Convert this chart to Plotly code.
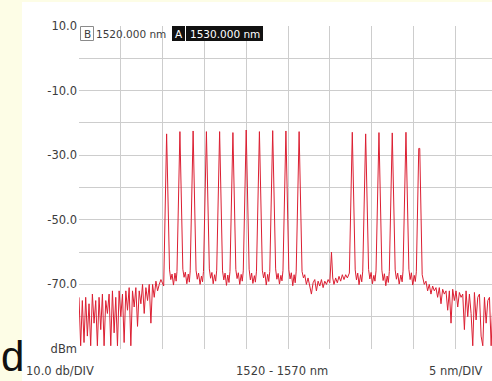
import plotly.graph_objects as go

# ---------------- data ----------------
# ASE noise floor left of the channel band (nm, dBm)
left_wl = [1520.0, 1520.2, 1520.4, 1520.6, 1520.8, 1521.0, 1521.2, 1521.4, 1521.6, 1521.8,
           1522.0, 1522.2, 1522.4, 1522.6, 1522.8, 1523.0, 1523.2, 1523.4, 1523.6, 1523.8,
           1524.0, 1524.2, 1524.4, 1524.6, 1524.8, 1525.0, 1525.2, 1525.4, 1525.6, 1525.8,
           1526.0, 1526.2, 1526.4, 1526.6, 1526.8, 1527.0, 1527.2, 1527.4, 1527.6, 1527.8,
           1528.0, 1528.2, 1528.4, 1528.6, 1528.8, 1529.0, 1529.2, 1529.4, 1529.6, 1529.8,
           1530.13]
left_dbm = [-74.0, -89.0, -75.0, -88.0, -74.0, -86.0, -76.0, -89.0, -73.0, -82.0,
            -75.0, -89.0, -74.0, -84.0, -73.0, -89.0, -75.0, -79.0, -73.0, -89.0,
            -72.0, -85.0, -74.0, -89.0, -72.0, -80.0, -73.0, -88.0, -72.0, -78.0,
            -71.0, -89.0, -72.0, -77.0, -71.0, -83.0, -72.0, -76.0, -70.0, -79.0,
            -71.0, -75.0, -70.0, -82.0, -70.0, -74.0, -69.0, -72.0, -70.0, -68.5,
            -70.5]

# channel peaks (nm, dBm)
peak_wl = [1530.48, 1532.07, 1533.65, 1535.24, 1536.82, 1538.41, 1540.00, 1541.58,
           1543.17, 1544.75, 1546.33,
           1552.69, 1554.29, 1555.88, 1557.47, 1559.11, 1560.64, 1560.76]
peak_dbm = [-23.4, -22.7, -22.5, -22.7, -22.7, -23.0, -22.2, -22.7,
            -22.4, -22.5, -22.7,
            -22.9, -23.4, -23.0, -23.1, -22.9, -27.9, -27.9]

# in-band noise floor between the channels (nm, dBm)
floor_wl = [1530.83, 1530.98, 1531.13, 1531.30, 1531.48, 1531.62, 1531.72,
            1532.42, 1532.57, 1532.72, 1532.90, 1533.07, 1533.20, 1533.30,
            1534.00, 1534.15, 1534.30, 1534.48, 1534.65, 1534.78, 1534.89,
            1535.59, 1535.74, 1535.90, 1536.05, 1536.22, 1536.35, 1536.47,
            1537.17, 1537.32, 1537.47, 1537.64, 1537.80, 1537.94, 1538.06,
            1538.76, 1538.91, 1539.06, 1539.23, 1539.40, 1539.53, 1539.65,
            1540.35, 1540.50, 1540.65, 1540.80, 1540.98, 1541.10, 1541.23,
            1541.93, 1542.08, 1542.23, 1542.40, 1542.57, 1542.70, 1542.82,
            1543.52, 1543.67, 1543.82, 1543.98, 1544.15, 1544.28, 1544.40,
            1545.10, 1545.25, 1545.40, 1545.57, 1545.73, 1545.86, 1545.98,
            1546.68, 1546.85, 1547.00, 1547.20, 1547.40, 1547.60, 1547.80, 1548.00,
            1548.20, 1548.40, 1548.60, 1548.80, 1549.00, 1549.20, 1549.40, 1549.60,
            1549.80, 1550.00, 1550.20, 1550.35, 1550.50, 1550.70, 1550.90, 1551.10,
            1551.30, 1551.50, 1551.70, 1551.90, 1552.10, 1552.34,
            1553.04, 1553.19, 1553.34, 1553.50, 1553.68, 1553.82, 1553.94,
            1554.64, 1554.79, 1554.94, 1555.10, 1555.27, 1555.40, 1555.53,
            1556.23, 1556.38, 1556.53, 1556.70, 1556.86, 1557.00, 1557.12,
            1557.82, 1557.97, 1558.12, 1558.30, 1558.50, 1558.65, 1558.76,
            1559.46, 1559.61, 1559.76, 1559.92, 1560.10, 1560.23, 1560.35,
            1561.05]
floor_dbm = [-65.5, -68.5, -66.8, -70.2, -66.5, -69.0, -66.0,
             -65.3, -67.8, -66.2, -69.8, -66.8, -69.3, -65.8,
             -65.6, -68.4, -66.5, -70.0, -67.4, -69.2, -66.0,
             -65.2, -68.1, -66.3, -69.8, -67.0, -69.0, -65.6,
             -65.8, -68.6, -66.5, -70.3, -67.1, -69.4, -66.0,
             -65.4, -68.2, -66.4, -70.0, -66.9, -69.0, -65.8,
             -65.3, -68.6, -66.5, -69.7, -67.3, -69.3, -65.9,
             -65.6, -68.0, -66.2, -70.2, -66.9, -69.1, -66.0,
             -65.2, -68.4, -66.6, -69.9, -67.2, -68.9, -65.7,
             -65.5, -68.3, -66.4, -70.4, -67.0, -69.5, -65.9,
             -66.0, -68.0, -67.0, -70.0, -68.0, -71.0, -73.0, -69.5,
             -68.5, -72.0, -69.0, -70.5, -68.5, -71.0, -69.0, -70.0,
             -68.5, -69.5, -60.0, -68.0, -70.0, -68.0, -69.5, -67.5,
             -69.0, -67.0, -68.5, -67.0, -68.0, -66.5,
             -65.5, -68.6, -66.5, -70.1, -67.0, -69.2, -65.9,
             -65.4, -68.3, -66.3, -69.8, -67.2, -69.0, -65.8,
             -65.6, -68.8, -66.7, -70.4, -67.4, -69.4, -66.0,
             -65.5, -68.4, -66.5, -69.9, -67.1, -69.2, -65.9,
             -65.3, -68.5, -66.4, -70.2, -67.2, -69.1, -66.1,
             -67.0]

# ASE noise floor right of the channel band (nm, dBm)
right_wl = [1561.3, 1561.5, 1561.7, 1561.9, 1562.1, 1562.3, 1562.5, 1562.7, 1562.9,
            1563.1, 1563.3, 1563.5, 1563.7, 1563.9, 1564.1, 1564.3, 1564.5, 1564.7,
            1564.9, 1565.1, 1565.3, 1565.5, 1565.7, 1565.9, 1566.1, 1566.3, 1566.5,
            1566.7, 1566.9, 1567.1, 1567.3, 1567.5, 1567.7, 1567.9, 1568.1, 1568.3,
            1568.5, 1568.7, 1568.9, 1569.1, 1569.3, 1569.5]
right_dbm = [-70.0, -69.0, -72.0, -70.0, -73.0, -70.5, -72.0, -71.0, -74.0,
             -71.0, -76.0, -71.5, -73.0, -72.0, -78.0, -72.0, -82.0, -71.5,
             -75.0, -72.0, -77.0, -72.5, -74.0, -73.0, -84.0, -72.0, -80.0,
             -73.0, -79.0, -89.0, -72.5, -81.0, -74.0, -73.0, -86.0, -89.0,
             -74.0, -82.0, -75.0, -74.0, -89.0, -76.0]

# axis / annotation texts
y_ticks = [10, 0, -10, -20, -30, -40, -50, -60, -70, -80, -90]
y_ticktext = ["10.0", "", "-10.0", "", "-30.0", "", "-50.0", "", "-70.0", "", "dBm"]
x_grid = [1520, 1525, 1530, 1535, 1540, 1545, 1550, 1555, 1560, 1565, 1570]
marker_b = "1520.000 nm"
marker_a = "1530.000 nm"
footer = ["10.0 db/DIV", "1520 - 1570 nm", "5 nm/DIV"]

# ---------------- assemble trace (sorted union of read points) ----------------
pts = sorted(zip(left_wl + peak_wl + floor_wl + right_wl,
                 left_dbm + peak_dbm + floor_dbm + right_dbm))
wl = [p[0] for p in pts]
dbm = [p[1] for p in pts]

W, H = 492, 381
L, R, T, B = 79, 0, 26, 32
pw, ph = W - L - R, H - T - B


def px(xp):
    return (xp - L) / pw


def py(yp):
    return (H - B - yp) / ph


FONT = "DejaVu Sans"
TXT = "#3c3c3c"

fig = go.Figure()
fig.add_trace(go.Scatter(x=wl, y=dbm, mode="lines",
                         line=dict(color="#dc1f32", width=1), hoverinfo="skip"))


def rect(x0, x1, y0, y1, fill, line=None, layer="above"):
    return dict(type="rect", xref="paper", yref="paper", layer=layer,
                x0=px(x0), x1=px(x1), y0=py(y1), y1=py(y0),
                fillcolor=fill, line=line or dict(width=0))


shapes = [
    rect(22, W + 5, 2, H + 5, "white", layer="below"),
    rect(80.5, 93.5, 26.5, 40.5, "white", dict(color="#8a8a8a", width=1)),
    rect(172, 185, 26, 41, "#111111"),
    rect(186, 263, 26, 41, "#111111"),
]

fig.update_layout(
    width=W, height=H,
    margin=dict(l=L, r=R, t=T, b=B, pad=0),
    paper_bgcolor="#fdfde6",
    plot_bgcolor="white",
    showlegend=False,
    xaxis=dict(range=[1520, 1520 + pw / 8.36], tickmode="array", tickvals=x_grid,
               showticklabels=False, ticks="", showgrid=True, gridcolor="#cdcdcd",
               gridwidth=1, zeroline=False, showline=False, fixedrange=True),
    yaxis=dict(range=[-90, 10], tickmode="array", tickvals=y_ticks, ticktext=y_ticktext,
               ticks="", showgrid=True, gridcolor="#cdcdcd", gridwidth=1,
               zeroline=False, showline=False, ticklabelstandoff=1,
               tickfont=dict(family=FONT, size=11.5, color=TXT), fixedrange=True),
    shapes=shapes,
)


def label(text, xp, yp, anchor="center", color=TXT, size=10.5, fam=FONT, yanchor="middle"):
    return dict(text=text, xref="paper", yref="paper", x=px(xp), y=py(yp),
                xanchor=anchor, yanchor=yanchor, showarrow=False,
                font=dict(family=fam, size=size, color=color), borderpad=0)


ann = [
    label("B", 87, 33.5),
    label(marker_b, 95, 33.5, anchor="left"),
    label("A", 178.5, 33.5, color="white"),
    label(marker_a, 224.5, 33.5, color="white"),
    label(footer[0], 25, 371, anchor="left", size=11.5),
    label(footer[1], 282, 371, size=11.5),
    label(footer[2], 456, 371, size=11.5),
    label("d", 0, 381, anchor="left", size=42, color="#111111",
          fam="Liberation Sans", yanchor="bottom"),
]
fig.update_layout(annotations=ann)

fig.write_html("out.html", config={"displayModeBar": False})
